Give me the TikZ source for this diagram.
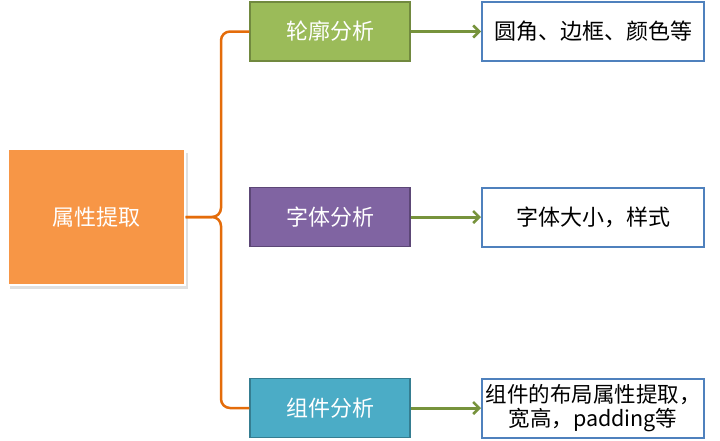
\documentclass[tikz,border=0pt]{standalone}
\usepackage{fontspec}
\setmainfont{Noto Sans CJK SC}
\usetikzlibrary{arrows.meta}
\definecolor{rootfill}{HTML}{F79646}
\definecolor{bracecol}{HTML}{E46C0A}
\definecolor{greenfill}{HTML}{9BBB59}
\definecolor{greenline}{HTML}{71893F}
\definecolor{purplefill}{HTML}{8064A2}
\definecolor{purpleline}{HTML}{5C4776}
\definecolor{tealfill}{HTML}{4BACC6}
\definecolor{tealline}{HTML}{357D91}
\definecolor{blueline}{HTML}{4F81BD}
\definecolor{arrowcol}{HTML}{77933C}
\begin{document}
\begin{tikzpicture}[x=1pt,y=-1pt,
  txt/.style={font=\fontsize{22}{28}\selectfont},
  catbox/.style={txt, text=white, minimum width=160pt, minimum height=59pt, inner sep=0pt, line width=1.5pt},
  descbox/.style={txt, text=black, fill=white, draw=blueline, line width=2pt, minimum width=222pt, minimum height=59pt, inner sep=0pt, align=center},
  brace/.style={draw=bracecol, line width=2.5pt, rounded corners=9pt},
  arr/.style={draw=arrowcol, line width=3pt, -{Straight Barb[length=6pt,width=12pt,line width=2.5pt]}}
]
\useasboundingbox (0,0) rectangle (720,440);
% root shadow
\fill[black!12] (10,153) rectangle (188,289);
\node[txt, text=white, fill=rootfill, draw=white, line width=2pt, minimum width=177pt, minimum height=136pt, inner sep=0pt] (root) at (96,217) {属性提取};

\node[catbox, fill=greenfill, draw=greenline] (g) at (330,31.5) {轮廓分析};
\node[catbox, fill=purplefill, draw=purpleline] (p) at (330,217) {字体分析};
\node[catbox, fill=tealfill, draw=tealline] (t) at (330,408) {组件分析};

\node[descbox] (wg) at (593,31.5) {圆角、边框、颜色等};
\node[descbox] (wp) at (593,217) {字体大小，样式};
\node[descbox, font=\fontsize{21.5}{26}\selectfont] (wt) at (593,408) {组件的布局属性提取，\\[-2pt]宽高，padding等};

\coordinate (top) at (221,31.5);
\coordinate (bot) at (221,408);
\draw[brace] (root.east) -| (top) -- (g.west);
\draw[brace] (root.east) -| (bot) -- (t.west);

\draw[arr] (g.east) -- (wg.west);
\draw[arr] (p.east) -- (wp.west);
\draw[arr] (t.east) -- (wt.west);
\end{tikzpicture}
\end{document}
